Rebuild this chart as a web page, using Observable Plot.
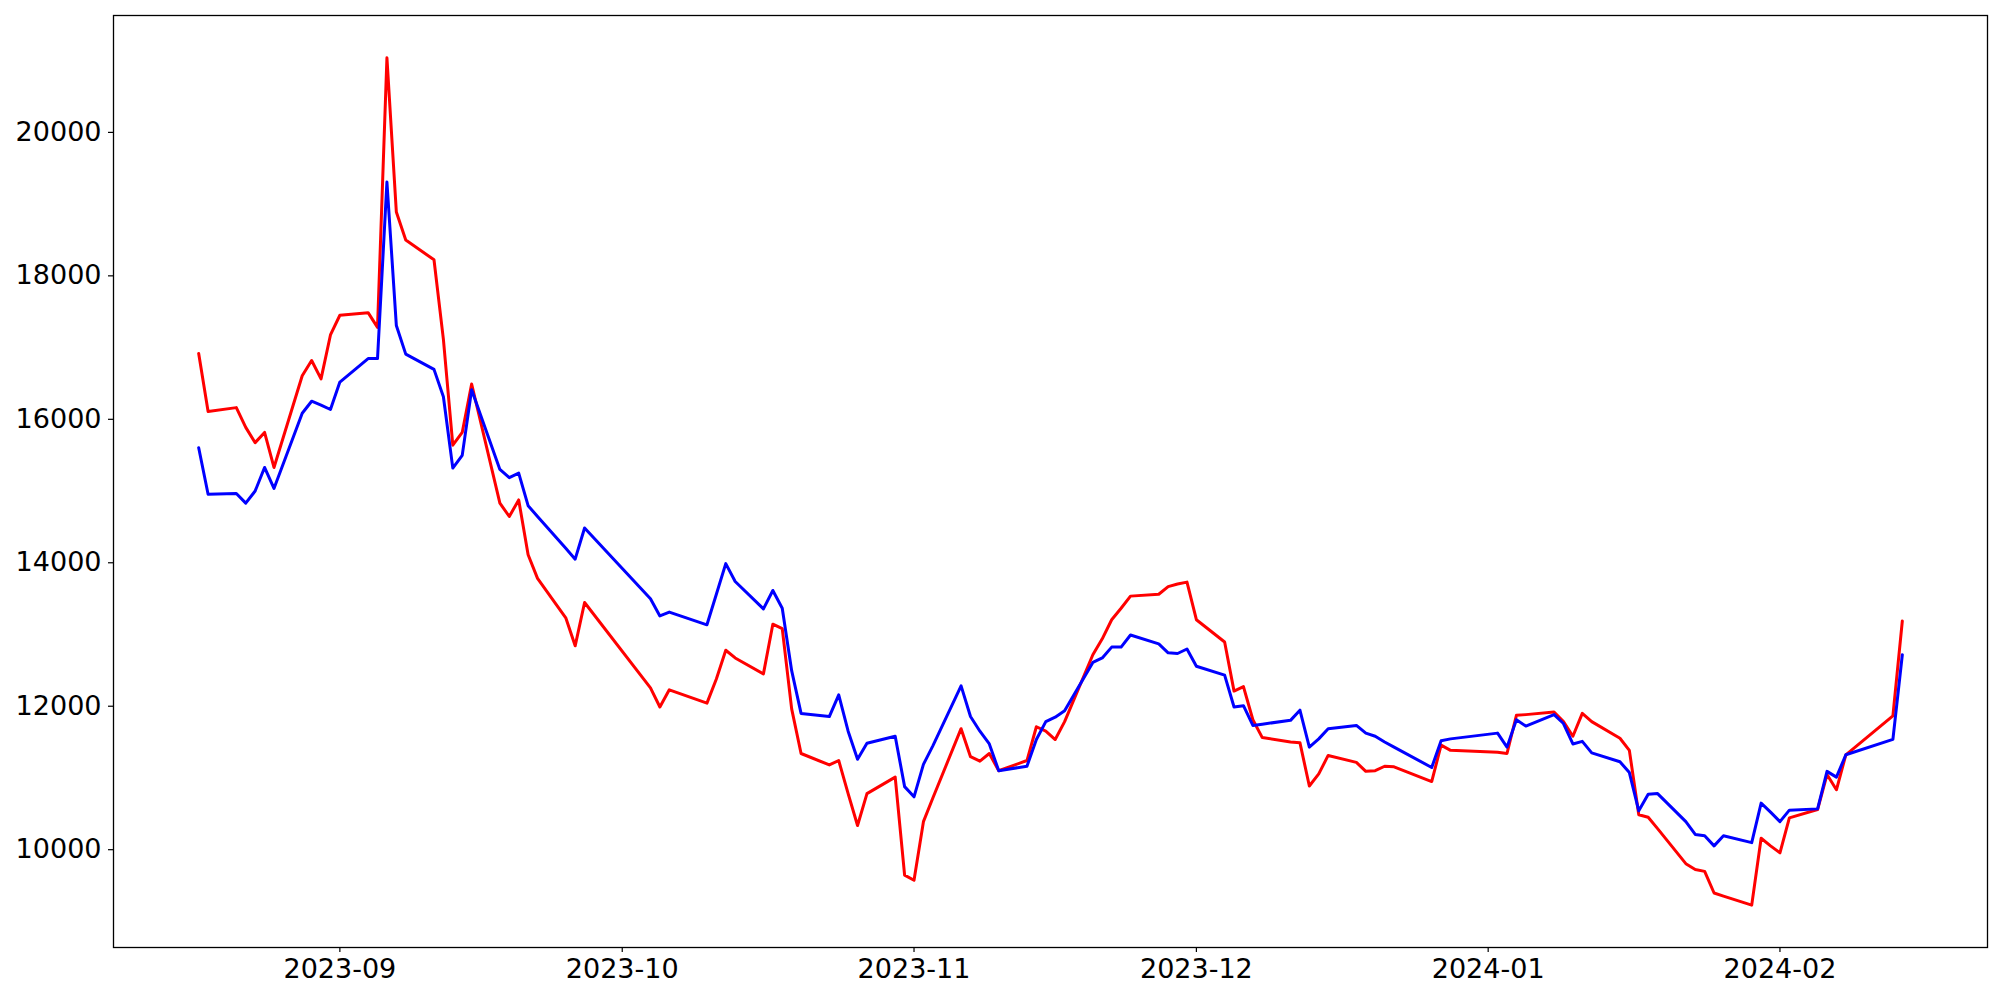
<!DOCTYPE html>
<html>
<head>
<meta charset="utf-8">
<script src="https://cdn.jsdelivr.net/npm/d3@7"></script>
<script src="https://cdn.jsdelivr.net/npm/@observablehq/plot@0.6"></script>
<style>
  html, body { margin: 0; padding: 0; background: white; }
  #chart { width: 2000px; height: 1000px; }
</style>
</head>
<body>
<div id="chart"></div>
<script>
const dates = [
  "2023-08-17","2023-08-18","2023-08-21","2023-08-22","2023-08-23","2023-08-24","2023-08-25","2023-08-28","2023-08-29","2023-08-30","2023-08-31",
  "2023-09-01","2023-09-04","2023-09-05","2023-09-06","2023-09-07","2023-09-08","2023-09-11","2023-09-12","2023-09-13","2023-09-14","2023-09-15","2023-09-18","2023-09-19","2023-09-20","2023-09-21","2023-09-22","2023-09-25","2023-09-26","2023-09-27",
  "2023-10-04","2023-10-05","2023-10-06","2023-10-10","2023-10-11","2023-10-12","2023-10-13","2023-10-16","2023-10-17","2023-10-18","2023-10-19","2023-10-20","2023-10-23","2023-10-24","2023-10-25","2023-10-26","2023-10-27","2023-10-30","2023-10-31",
  "2023-11-01","2023-11-02","2023-11-03","2023-11-06","2023-11-07","2023-11-08","2023-11-09","2023-11-10","2023-11-13","2023-11-14","2023-11-15","2023-11-16","2023-11-17","2023-11-20","2023-11-21","2023-11-22","2023-11-23","2023-11-24","2023-11-27","2023-11-28","2023-11-29","2023-11-30",
  "2023-12-01","2023-12-04","2023-12-05","2023-12-06","2023-12-07","2023-12-08","2023-12-11","2023-12-12","2023-12-13","2023-12-14","2023-12-15","2023-12-18","2023-12-19","2023-12-20","2023-12-21","2023-12-22","2023-12-26","2023-12-27","2023-12-28",
  "2024-01-02","2024-01-03","2024-01-04","2024-01-05","2024-01-08","2024-01-09","2024-01-10","2024-01-11","2024-01-12","2024-01-15","2024-01-16","2024-01-17","2024-01-18","2024-01-19","2024-01-22","2024-01-23","2024-01-24","2024-01-25","2024-01-26","2024-01-29","2024-01-30","2024-01-31",
  "2024-02-01","2024-02-02","2024-02-05","2024-02-06","2024-02-07","2024-02-08","2024-02-13","2024-02-14"
];

const redValues = [
  16918,16110,16163,15888,15675,15817,15329,16607,16820,16563,17176,
  17451,17487,17282,21039,18890,18499,18224,17114,15640,15817,16492,14831,14645,14876,14112,13783,13233,12842,13446,
  12256,11989,12229,12043,12380,12780,12673,12451,13144,13082,11963,11341,11181,11243,10782,10337,10782,11012,9645,
  9574,10391,10720,11687,11297,11234,11341,11101,11243,11714,11652,11536,11785,12718,12940,13206,13366,13535,13561,13668,13703,13730,
  13206,12895,12211,12273,11812,11563,11501,11492,10888,11057,11314,11217,11092,11101,11163,11155,10950,11457,11385,
  11359,11341,11874,11883,11918,11785,11581,11901,11785,11554,11385,10488,10453,10293,9805,9725,9698,9396,9352,9227,10159,10053,
  9955,10444,10560,11048,10835,11323,11865,13188
];

const blueValues = [
  15604,14956,14965,14831,15000,15329,15036,16084,16252,16199,16137,
  16519,16847,16847,19307,17309,16909,16696,16314,15320,15497,16412,15302,15187,15249,14796,14645,14201,14050,14485,
  13499,13259,13313,13135,13561,13988,13739,13357,13614,13366,12496,11900,11856,12158,11652,11261,11483,11581,10879,
  10737,11190,11448,12283,11856,11652,11474,11101,11164,11537,11785,11847,11936,12611,12673,12824,12824,12993,12869,12744,12735,12798,
  12558,12433,11989,12007,11732,11750,11803,11945,11430,11545,11687,11732,11625,11581,11501,11430,11146,11519,11545,
  11625,11430,11812,11723,11883,11759,11474,11510,11350,11226,11075,10542,10773,10782,10391,10213,10195,10053,10195,10098,10649,10524,
  10391,10551,10569,11092,11012,11323,11537,12718
];

const xTickLabels = ["2023-09-01","2023-10-01","2023-11-01","2023-12-01","2024-01-01","2024-02-01"];
const yTickValues = [10000, 12000, 14000, 16000, 18000, 20000];

const parse = d3.utcParse("%Y-%m-%d");
const data = dates.map((d, i) => ({date: parse(d), red: redValues[i], blue: blueValues[i]}));

// matplotlib-style 5% margins
const xExt = d3.extent(data, d => d.date);
const xPad = (xExt[1] - xExt[0]) * 0.05;
const xDomain = [new Date(+xExt[0] - xPad), new Date(+xExt[1] + xPad)];
const allY = redValues.concat(blueValues);
const yExt = d3.extent(allY);
const yPad = (yExt[1] - yExt[0]) * 0.05;
const yDomain = [yExt[0] - yPad, yExt[1] + yPad];

const chart = Plot.plot({
  width: 2000,
  height: 1000,
  marginLeft: 113,
  marginRight: 13,
  marginTop: 15,
  marginBottom: 53,
  style: {fontFamily: "DejaVu Sans", fontSize: "27px", color: "black", background: "white"},
  x: {type: "utc", domain: xDomain},
  y: {domain: yDomain},
  marks: [
    Plot.line(data, {x: "date", y: "red", stroke: "#ff0000", strokeWidth: 3}),
    Plot.line(data, {x: "date", y: "blue", stroke: "#0000ff", strokeWidth: 3}),
    Plot.axisX({ticks: xTickLabels.map(parse), tickFormat: d3.utcFormat("%Y-%m"), tickSize: 5, tickPadding: 6, label: null, stroke: "black", strokeWidth: 1.2}),
    Plot.axisY({ticks: yTickValues, tickFormat: d3.format("d"), tickSize: 5, tickPadding: 7, label: null, stroke: "black", strokeWidth: 1.2}),
    Plot.frame({stroke: "black", strokeWidth: 1.3})
  ]
});
document.getElementById("chart").appendChild(chart);
</script>
</body>
</html>
